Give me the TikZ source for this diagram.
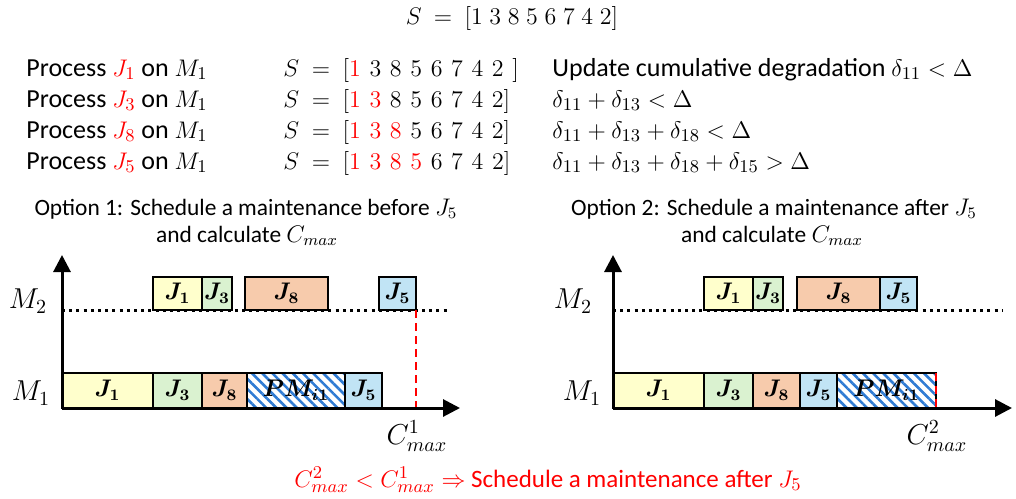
\documentclass[tikz,border=0pt]{standalone}
\usepackage{fontspec}
\setmainfont{Carlito}
\usepackage{amsmath,amssymb}
\usetikzlibrary{positioning, arrows.meta, patterns.meta}

\definecolor{jobyellow}{HTML}{FFFFCC}
\definecolor{jobgreen}{HTML}{DAF2D0}
\definecolor{joborange}{HTML}{F7CBAC}
\definecolor{jobblue}{HTML}{C1E4F5}
\definecolor{pmblue}{HTML}{2F7BD3}
\newcommand{\dg}{\mskip6.5mu}

\begin{document}
\begin{tikzpicture}[
        x=0.5pt, y=-0.5pt,
        txt/.style={anchor=base west, inner sep=0, font=\fontsize{13}{15}\selectfont},
        opt/.style={anchor=base, inner sep=0, font=\fontsize{11.7}{14}\selectfont},
        mlabel/.style={inner sep=0, font=\fontsize{14}{16}\selectfont},
        job/.style={draw, line width=1.2pt, inner sep=0, outer sep=0, anchor=south west, font=\fontsize{12}{14}\selectfont},
        jone/.style={job, fill=jobyellow},
        jthree/.style={job, fill=jobgreen},
        jeight/.style={job, fill=joborange},
        jfive/.style={job, fill=jobblue},
        pm/.style={job, pattern={Lines[angle=-45, distance=3.6pt, line width=1.3pt]}, pattern color=pmblue},
        lowrow/.style={minimum height=17.5pt},
        uprow/.style={minimum height=16.5pt},
        axis/.style={-{Triangle[length=8.5pt, width=8.5pt]}, line width=1.5pt},
        slot/.style={dash pattern=on 1.5pt off 2.1pt, line width=1.5pt},
        cmark/.style={red, dash pattern=on 4pt off 2.5pt, line width=1.3pt}
    ]
    \useasboundingbox (0,0) rectangle (1016,498);

    % sequence and steps
    \node[txt, anchor=base, font=\fontsize{12.5}{15}\selectfont] (Seq) at (512,25) {$S\ =\ [1\;3\;8\;5\;6\;7\;4\;2]$};

    \node[txt] (Step1) at (26,76) {Process \textcolor{red}{$J_1$} on $M_1$};
    \node[txt] (Step3) at (26,107) {Process \textcolor{red}{$J_3$} on $M_1$};
    \node[txt] (Step8) at (26,138) {Process \textcolor{red}{$J_8$} on $M_1$};
    \node[txt] (Step5) at (26,169) {Process \textcolor{red}{$J_5$} on $M_1$};

    \node[txt] (Seq1) at (283,76) {$S\ =\ [\textcolor{red}{1}\dg3\dg8\dg5\dg6\dg7\dg4\dg2\dg]$};
    \node[txt] (Seq3) at (283,107) {$S\ =\ [\textcolor{red}{1\dg3}\dg8\dg5\dg6\dg7\dg4\dg2]$};
    \node[txt] (Seq8) at (283,138) {$S\ =\ [\textcolor{red}{1\dg3\dg8}\dg5\dg6\dg7\dg4\dg2]$};
    \node[txt] (Seq5) at (283,169) {$S\ =\ [\textcolor{red}{1\dg3\dg8\dg5}\dg6\dg7\dg4\dg2]$};

    \node[txt] (Deg1) at (552,76) {Update cumulative degradation $\delta_{11} < \Delta$};
    \node[txt] (Deg3) at (552,107) {$\delta_{11} + \delta_{13} < \Delta$};
    \node[txt] (Deg8) at (552,138) {$\delta_{11} + \delta_{13} + \delta_{18} < \Delta$};
    \node[txt] (Deg5) at (552,169) {$\delta_{11} + \delta_{13} + \delta_{18} + \delta_{15} > \Delta$};

    % option 1
    \node[opt] (OptA) at (246,215) {Option 1: Schedule a maintenance before $J_5$};
    \node[opt] (OptAb) at (247,242) {and calculate $C_{max}$};

    \coordinate (LO) at (62,408);
    \coordinate (LX) at (460,408);
    \coordinate (LY) at (62,255);
    \coordinate (LSs) at (62,310);
    \coordinate (LSe) at (450,310);
    \coordinate (LCm) at (416,408);

    \draw[slot] (LSs) -- (LSe);

    \node[jone, lowrow, minimum width=45.5pt] (LJ1) at (62,408) {$\boldsymbol{J_1}$};
    \node[jthree, lowrow, minimum width=24.5pt, right=0pt of LJ1] (LJ3) {$\boldsymbol{J_3}$};
    \node[jeight, lowrow, minimum width=22.5pt, right=0pt of LJ3] (LJ8) {$\boldsymbol{J_8}$};
    \node[pm, lowrow, minimum width=49pt, right=0pt of LJ8] (LPM) {$\boldsymbol{PM_{i1}}$};
    \node[jfive, lowrow, minimum width=18.5pt, right=0pt of LPM] (LJ5) {$\boldsymbol{J_5}$};

    \node[jone, uprow, minimum width=24.5pt] (LUJ1) at (153,310) {$\boldsymbol{J_1}$};
    \node[jthree, uprow, minimum width=15pt, right=0pt of LUJ1] (LUJ3) {$\boldsymbol{J_3}$};
    \node[jeight, uprow, minimum width=41.5pt] (LUJ8) at (245,310) {$\boldsymbol{J_8}$};
    \node[jfive, uprow, minimum width=18.5pt] (LUJ5) at (379,310) {$\boldsymbol{J_5}$};

    \draw[cmark] (LUJ5.south east) -- (LCm);
    \draw[axis] (LO) -- (LX);
    \draw[axis] (LO) -- (LY);

    \node[mlabel] (LM2) at (28,301) {$M_2$};
    \node[mlabel] (LM1) at (31,393) {$M_1$};
    \node[mlabel] (LC) at (417,436) {$C^1_{max}$};

    % option 2
    \node[opt] (OptB) at (774,215) {Option 2: Schedule a maintenance after $J_5$};
    \node[opt] (OptBb) at (772,242) {and calculate $C_{max}$};

    \coordinate (RO) at (613,408);
    \coordinate (RX) at (1012,408);
    \coordinate (RY) at (613,255);
    \coordinate (RSs) at (613,310);
    \coordinate (RSe) at (1002,310);

    \draw[slot] (RSs) -- (RSe);

    \node[jone, lowrow, minimum width=45.5pt] (RJ1) at (613,408) {$\boldsymbol{J_1}$};
    \node[jthree, lowrow, minimum width=24.5pt, right=0pt of RJ1] (RJ3) {$\boldsymbol{J_3}$};
    \node[jeight, lowrow, minimum width=23.5pt, right=0pt of RJ3] (RJ8) {$\boldsymbol{J_8}$};
    \node[jfive, lowrow, minimum width=18.5pt, right=0pt of RJ8] (RJ5) {$\boldsymbol{J_5}$};
    \node[pm, lowrow, minimum width=49.5pt, right=0pt of RJ5] (RPM) {$\boldsymbol{PM_{i1}}$};

    \node[jone, uprow, minimum width=24.5pt] (RUJ1) at (704,310) {$\boldsymbol{J_1}$};
    \node[jthree, uprow, minimum width=15pt, right=0pt of RUJ1] (RUJ3) {$\boldsymbol{J_3}$};
    \node[jeight, uprow, minimum width=41.5pt] (RUJ8) at (797,310) {$\boldsymbol{J_8}$};
    \node[jfive, uprow, minimum width=18.5pt, right=0pt of RUJ8] (RUJ5) {$\boldsymbol{J_5}$};

    \draw[cmark] (RPM.north east) -- (RPM.south east);
    \draw[axis] (RO) -- (RX);
    \draw[axis] (RO) -- (RY);

    \node[mlabel] (RM2) at (573,301) {$M_2$};
    \node[mlabel] (RM1) at (582,393) {$M_1$};
    \node[mlabel] (RC) at (937,436) {$C^2_{max}$};

    % conclusion
    \node[txt, anchor=base, red, font=\fontsize{12.5}{15}\selectfont] (Verdict) at (548,487) {$C^2_{max} < C^1_{max} \Rightarrow$ Schedule a maintenance after $J_5$};
\end{tikzpicture}
\end{document}
